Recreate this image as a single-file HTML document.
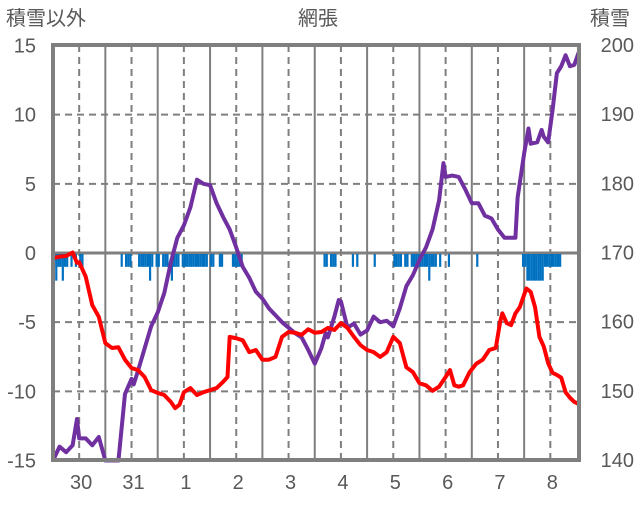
<!DOCTYPE html>
<html><head><meta charset="utf-8"><style>
body{margin:0;background:#fff;width:636px;height:501px;overflow:hidden;font-family:"Liberation Sans","Noto Sans CJK JP",sans-serif}
svg text{font-family:"Liberation Sans","Noto Sans CJK JP",sans-serif;fill:#595959}
</style></head><body>
<svg id="chart" width="636" height="501" xmlns="http://www.w3.org/2000/svg">
<text x="318" y="25" font-size="20" text-anchor="middle">網張</text>
<text x="6" y="25" font-size="20">積雪以外</text>
<text x="630" y="25" font-size="20" text-anchor="end">積雪</text>
<g id="grid"></g>
<g id="bars"></g>
<g id="lines"></g>
<g id="axes"></g>
</svg>
<script>
const dayLabels=["30","31","1","2","3","4","5","6","7","8"];
const leftTicks=[15,10,5,0,-5,-10,-15];
const rightTicks=[200,190,180,170,160,150,140];
const purpleHours=[0,3,6,9,11,12,15,18,21,24,27,30,33,36,37,39,42,45,48,51,54,57,60,63,66,69,72,75,78,81,84,87,90,93,96,99,102,105,108,111,114,117,120,123,125,126,129,131,132,135,138,141,144,147,150,153,156,159,162,165,168,171,174,177,179,180,183,186,189,192,195,198,201,204,207,210,212,213,216,218,219,222,224,225,227,229,231,233,235,237,239,241];
const purpleVals=[-15,-14,-14.4,-13.9,-12,-13.4,-13.4,-13.9,-13.3,-15,-15,-15,-10.2,-9.1,-9.5,-8.5,-6.9,-5.3,-4.3,-2.9,-0.7,1.1,2,3.3,5.3,5,4.9,3.6,2.6,1.7,0.4,-1,-1.8,-2.8,-3.3,-4,-4.5,-5,-5.4,-5.8,-6.1,-7,-8,-6.9,-5.8,-6.1,-4.6,-3.4,-3.5,-5.4,-5.1,-5.9,-5.6,-4.6,-5,-4.9,-5.3,-4,-2.4,-1.6,-0.5,0.4,1.7,3.8,6.5,5.5,5.6,5.5,4.6,3.6,3.6,2.7,2.5,1.7,1.1,1.1,1.1,4,7.2,9,7.9,8,8.9,8.4,8,10.3,13,13.5,14.3,13.5,13.6,14.5];
const redHours=[0,3,6,9,11,12,15,18,21,24,27,30,33,36,39,42,45,48,51,54,56,58,60,63,66,69,72,75,78,80,81,84,87,90,93,96,99,102,105,108,111,114,117,120,123,126,129,132,135,138,141,144,147,150,153,156,159,162,165,168,171,174,177,180,182,184,186,188,191,194,197,200,203,205,206,208,210,212,214,216,217,219,221,223,225,227,229,231,233,235,237,239,241];
const redVals=[169.2,169.4,169.5,170,168.5,168.6,166.5,162.4,160.7,156.9,156.2,156.3,154.5,153.3,153,152,150.1,149.7,149.4,148.4,147.5,148,149.8,150.4,149.4,149.8,150.1,150.4,151.3,152,157.8,157.6,157.3,155.6,155.9,154.5,154.5,154.9,157.8,158.5,158.4,158.1,158.9,158.4,158.5,159.1,158.8,159.8,159.1,157.8,156.6,155.9,155.6,154.9,155.6,157.8,156.9,153.4,152.7,151.1,150.8,150,150.6,152,153,150.8,150.6,150.8,152.7,153.9,154.5,155.9,156.2,160,161.2,159.8,159.5,161.2,162.1,163.9,164.8,164.3,162.1,157.8,156.4,154,152.6,152.3,151.9,149.8,149,148.4,148.1];
const barHours=[0,1,2,3,4,5,6,8,10,12,13,31,33,34,35,39,40,41,42,43,44,45,47,48,50,51,52,54,55,56,57,59,60,61,62,63,64,65,66,67,68,69,70,72,73,76,77,82,83,84,85,86,124,125,127,128,129,137,139,147,156,157,158,159,161,162,164,165,166,167,168,169,170,171,172,173,174,175,177,181,194,215,216,217,218,219,220,221,222,223,224,225,226,227,228,229,230,231,232];
const barVals=[-1,-2,-1,-1,-2,-1,-1,-1,-1,-1,-1,-1,-1,-1,-1,-1,-1,-1,-1,-1,-2,-1,-1,-1,-1,-1,-1,-2,-1,-1,-1,-1,-1,-1,-1,-1,-1,-1,-1,-1,-1,-1,-1,-1,-1,-1,-1,-1,-1,-1,-1,-1,-1,-1,-1,-1,-1,-1,-1,-1,-1,-1,-1,-1,-1,-1,-1,-1,-1,-1,-1,-1,-1,-1,-2,-1,-1,-1,-1,-1,-1,-1,-1,-2,-2,-2,-2,-2,-2,-2,-2,-1,-1,-1,-1,-1,-1,-1,-1];

const L=53,R=579,T=45,B=460;
const xS=h=>L+h*(52.35/24);
const yL=v=>253-v*(B-T)/30;
const yR=v=>B-(v-140)*(B-T)/60;
const NS="http://www.w3.org/2000/svg";
function mk(tag,attrs,parent){const e=document.createElementNS(NS,tag);for(const k in attrs)e.setAttribute(k,attrs[k]);parent.appendChild(e);return e;}
const grid=document.getElementById('grid'),bars=document.getElementById('bars'),lines=document.getElementById('lines'),axes=document.getElementById('axes');
leftTicks.forEach((v,i)=>{
  const y=yL(v);
  if(v!==15&&v!==-15){const g=mk('line',{x1:L,x2:R,y1:y,y2:y,stroke:'#7f7f7f','stroke-width':v===0?3:2,'stroke-dasharray':v===0?'':'7,5'},grid);
  
  }
  const t=mk('text',{x:36,y:y+7,'font-size':20,'text-anchor':'end'},axes);t.textContent=v;
  
  
  const t2=mk('text',{x:634,y:yR(rightTicks[i])+7,'font-size':20,'text-anchor':'end'},axes);t2.textContent=rightTicks[i];
  
  
});
dayLabels.forEach((d,i)=>{
  const xb=xS(i*24),xm=xS(i*24+12);
  if(i>0){const g=mk('line',{x1:xb,x2:xb,y1:T,y2:B,stroke:'#7f7f7f','stroke-width':2},grid);
  
  }
  const g2=mk('line',{x1:xm,x2:xm,y1:T,y2:B,stroke:'#7f7f7f','stroke-width':2,'stroke-dasharray':'7,5'},grid);
  
  
  const t=mk('text',{x:xm+2,y:489,'font-size':20,'text-anchor':'middle'},axes);t.textContent=d;
  
  
});
barHours.forEach((h,i)=>{
  const x=xS(h),y0=yL(0)+1,y1=yL(barVals[i]);
  const r=mk('rect',{x:x,y:y0,width:2.2,height:y1-y0,fill:'#0070C0'},bars);
  
  
});
const pp=mk('polyline',{points:purpleHours.map((h,i)=>xS(h)+','+yL(purpleVals[i])).join(' '),fill:'none',stroke:'#7030A0','stroke-width':4,'stroke-linejoin':'round'},lines);


const rp=mk('polyline',{points:redHours.map((h,i)=>xS(h)+','+yR(redVals[i])).join(' '),fill:'none',stroke:'#FF0000','stroke-width':4,'stroke-linejoin':'round'},lines);


const fr=mk('rect',{x:L,y:T,width:R-L,height:B-T,fill:'none',stroke:'#7f7f7f','stroke-width':4},axes);


</script>
</body></html>
